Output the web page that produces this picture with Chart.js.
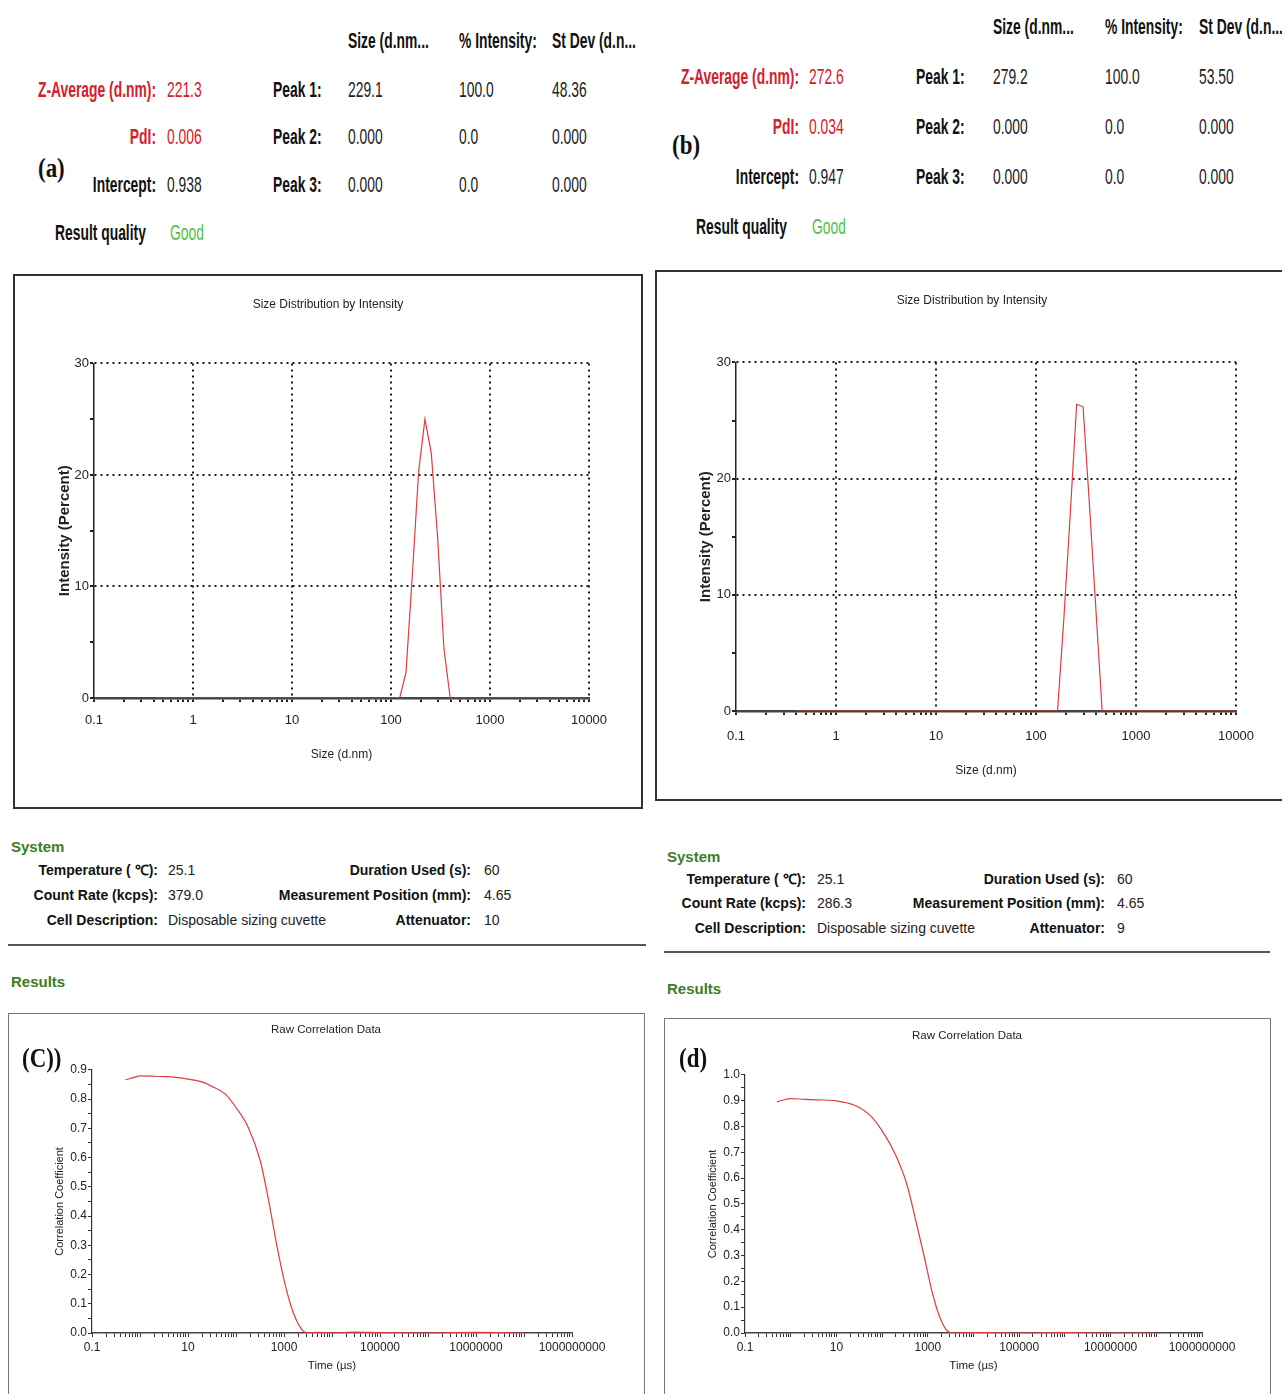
<!DOCTYPE html>
<html>
<head>
<meta charset="utf-8">
<script src="https://cdn.jsdelivr.net/npm/chart.js@4.4.0/dist/chart.umd.min.js"></script>
<style>
  body { margin: 0; width: 1282px; height: 1394px; position: relative; background: #fff; overflow: hidden;
         font-family: 'Liberation Sans', Arial, sans-serif; }
  .t { position: absolute; white-space: nowrap; line-height: 1; transform-origin: left center;
       transform: translateY(-50%); }
  .r { transform-origin: right center; transform: translate(-100%, -50%); }
  .n { font-size: 22px; color: #222; transform: translateY(-50%) scaleX(0.63); }
  .n.r { transform: translate(-100%, -50%) scaleX(0.63); }
  .lab { font-weight: bold; color: #111; }
  .red { color: #d4202c; }
  .good { color: #52bf4a; }
  .tag { font-family: 'Liberation Serif', 'Times New Roman', serif; font-weight: bold; font-size: 27px; color: #111;
         transform: translateY(-50%) scaleX(0.85); }
  .s { font-size: 14px; color: #222; }
  .sb { font-size: 14px; font-weight: bold; color: #111; }
  .green { font-size: 15px; font-weight: bold; color: #3d7d1f; }
  .box { position: absolute; box-sizing: border-box; }
  canvas { position: absolute; }
  .rule { position: absolute; height: 2px; background: #555; }
</style>
</head>
<body>
<div class="box" style="left:13px;top:274px;width:630px;height:535px;border:2px solid #333;"></div>
<div class="box" style="left:655px;top:270px;width:640px;height:531px;border:2px solid #333;"></div>
<div class="box" style="left:8px;top:1013px;width:637px;height:400px;border:1px solid #777;"></div>
<div class="box" style="left:664px;top:1018px;width:607px;height:400px;border:1px solid #777;"></div>

<canvas id="chartA" width="625" height="530" style="left:15px;top:276px;"></canvas>
<canvas id="chartB" width="625" height="526" style="left:657px;top:272px;"></canvas>
<canvas id="chartC" width="632" height="379" style="left:10px;top:1015px;"></canvas>
<canvas id="chartD" width="602" height="374" style="left:666px;top:1020px;"></canvas>

<div id="texts"></div>
<div class="rule" style="left:8px;top:944px;width:638px;"></div>
<div class="rule" style="left:664px;top:951px;width:606px;"></div>

<script>
// size distribution by intensity
const sizeA = [0.4, 122.4, 141.8, 164.2, 190.1, 220.2, 255.0, 295.3, 342.0, 396.1, 10000];
const intensityA = [0, 0, 2.3, 11, 20.3, 25.0, 22.0, 14.5, 4.5, 0, 0];
const sizeB = [0.4, 164.2, 190.1, 220.2, 255.0, 295.3, 342.0, 396.1, 458.7, 10000];
const intensityB = [0, 0, 8, 17, 26.4, 26.2, 17.8, 8.9, 0, 0];

// raw correlation data
const timeC = [0.5, 0.75, 1, 2, 3, 5, 10, 20, 30, 60, 100, 180, 320, 480, 700, 1050, 1550, 2300, 3100,
               5000, 10000, 30000, 100000, 1000000, 10000000, 100000000];
const corrC = [0.866, 0.874, 0.879, 0.878, 0.877, 0.875, 0.868, 0.858, 0.845, 0.817, 0.771, 0.703, 0.589,
               0.452, 0.304, 0.167, 0.071, 0.014, 0.0, 0.002, 0.0, 0.003, 0.001, 0.0, 0.002, 0.0];
const timeD = [0.5, 1, 2, 4, 10, 25, 56, 100, 186, 340, 560, 830, 1260, 1860, 2750, 3700,
               10000, 30000, 100000, 1000000, 10000000, 100000000];
const corrD = [0.895, 0.908, 0.905, 0.903, 0.899, 0.882, 0.841, 0.783, 0.699, 0.582, 0.427, 0.298,
               0.155, 0.058, 0.006, 0.0, 0.002, 0.001, 0.0, 0.002, 0.0, 0.0];

const sizeTicks = [0.1, 1, 10, 100, 1000, 10000];
const timeTickLabels = [0.1, 10, 1000, 100000, 10000000, 1000000000];

// header tables
const peakCols = ['Size (d.nm...', '% Intensity:', 'St Dev (d.n...'];
const peakRowsA = [['229.1', '100.0', '48.36'], ['0.000', '0.0', '0.000'], ['0.000', '0.0', '0.000']];
const peakRowsB = [['279.2', '100.0', '53.50'], ['0.000', '0.0', '0.000'], ['0.000', '0.0', '0.000']];
const summaryA = ['221.3', '0.006', '0.938'];
const summaryB = ['272.6', '0.034', '0.947'];
const systemA = ['25.1', '379.0', 'Disposable sizing cuvette', '60', '4.65', '10'];
const systemB = ['25.1', '286.3', 'Disposable sizing cuvette', '60', '4.65', '9'];

const RED = '#dc3c42';

const texts = document.getElementById('texts');
function txt(x, y, s, cls, right) {
    const d = document.createElement('div');
    d.className = 't ' + cls + (right ? ' r' : '');
    d.style.left = x + 'px';
    d.style.top = y + 'px';
    d.textContent = s;
    texts.appendChild(d);
}

function header(p) {
    peakCols.forEach((c, i) => txt(p.cols[i], p.headY, c, 'n lab'));
    const labels = ['Z-Average (d.nm):', 'PdI:', 'Intercept:'];
    labels.forEach((l, i) => {
        const y = p.rowY[i];
        const red = i < 2 ? ' red' : '';
        txt(p.labRight, y, l, 'n lab' + red, true);
        txt(p.valX, y, p.summary[i], 'n' + red);
        txt(p.peakX, y, 'Peak ' + (i + 1) + ':', 'n lab');
        p.rows[i].forEach((v, j) => txt(p.cols[j], y, v, 'n'));
    });
    txt(p.tagX, p.tagY, p.tag, 'tag');
    txt(p.rqX, p.rqY, 'Result quality', 'n lab');
    txt(p.goodX, p.rqY, 'Good', 'n good');
}

header({cols: [348, 459, 552], headY: 41, rowY: [90, 137, 185], labRight: 156, valX: 167, peakX: 273,
        summary: summaryA, rows: peakRowsA, tag: '(a)', tagX: 38, tagY: 168, rqX: 55, rqY: 233, goodX: 170});
header({cols: [993, 1105, 1199], headY: 27, rowY: [77, 127, 177], labRight: 799, valX: 809, peakX: 916,
        summary: summaryB, rows: peakRowsB, tag: '(b)', tagX: 672, tagY: 145, rqX: 696, rqY: 227, goodX: 812});

function system(p) {
    txt(p.x0, p.y0, 'System', 'green');
    const left = ['Temperature ( \u2103):', 'Count Rate (kcps):', 'Cell Description:'];
    const right = ['Duration Used (s):', 'Measurement Position (mm):', 'Attenuator:'];
    for (let i = 0; i < 3; i++) {
        txt(p.r1, p.rows[i], left[i], 'sb', true);
        txt(p.v1, p.rows[i], p.vals[i], 's');
        txt(p.r2, p.rows[i], right[i], 'sb', true);
        txt(p.v2, p.rows[i], p.vals[i + 3], 's');
    }
    txt(p.x0, p.resY, 'Results', 'green');
}
system({x0: 11, y0: 846, rows: [870, 895, 920], r1: 158, v1: 168, r2: 471, v2: 484, vals: systemA, resY: 981});
system({x0: 667, y0: 856, rows: [879, 903, 928], r1: 806, v1: 817, r2: 1105, v2: 1117, vals: systemB, resY: 988});

const isDecade = v => Math.abs(Math.log10(v) - Math.round(Math.log10(v))) < 1e-9;

function logTicks(lo, hi) {
    const out = [];
    for (let e = lo; e < hi; e++) {
        for (let m = 1; m < 10; m++) out.push(Number((m * Math.pow(10, e)).toPrecision(3)));
    }
    out.push(Math.pow(10, hi));
    return out;
}

function sizeChart(id, sizes, vals, L) {
    return new Chart(document.getElementById(id), {
        type: 'scatter',
        data: {
            datasets: [{
                data: sizes.map((s, i) => ({x: s, y: vals[i]})),
                showLine: true,
                borderColor: RED,
                borderWidth: 1.2,
                pointRadius: 0
            }]
        },
        options: {
            responsive: false,
            animation: false,
            layout: {padding: {left: L.padLeft, right: L.padRight, top: 0, bottom: 0}},
            plugins: {
                legend: {display: false},
                tooltip: {enabled: false},
                title: {
                    display: true,
                    text: 'Size Distribution by Intensity',
                    color: '#222',
                    font: {size: 12, weight: 'normal'},
                    padding: {top: L.titleTop, bottom: L.titleBottom}
                }
            },
            scales: {
                x: {
                    type: 'logarithmic',
                    min: 0.1,
                    max: 10000,
                    afterBuildTicks: s => { s.ticks = logTicks(-1, 4).map(v => ({value: v})); },
                    afterFit: s => { s.height = L.xHeight; },
                    ticks: {
                        autoSkip: false,
                        maxRotation: 0,
                        padding: L.xTickPad,
                        color: '#222',
                        font: {size: 13},
                        callback: v => sizeTicks.includes(v) ? String(v) : ''
                    },
                    grid: {
                        color: c => (c.tick && isDecade(c.tick.value) && c.tick.value > 0.1) ? '#1a1a1a' : 'rgba(0,0,0,0)',
                        lineWidth: 2,
                        tickColor: '#222',
                        tickLength: 4
                    },
                    border: {color: '#444', width: 2.5, dash: [2, 4]},
                    title: {
                        display: true,
                        text: 'Size (d.nm)',
                        color: '#222',
                        font: {size: 12},
                        padding: {top: 0, bottom: L.xTitlePad}
                    }
                },
                y: {
                    min: 0,
                    max: 30,
                    afterBuildTicks: s => { s.ticks = [0, 5, 10, 15, 20, 25, 30].map(v => ({value: v})); },
                    afterFit: s => { s.width = L.yWidth; },
                    ticks: {
                        padding: 1,
                        color: '#222',
                        font: {size: 13},
                        callback: v => v % 10 === 0 ? String(v) : ''
                    },
                    grid: {
                        color: c => (c.tick && c.tick.value % 10 === 0 && c.tick.value > 0) ? '#1a1a1a' : 'rgba(0,0,0,0)',
                        lineWidth: 2,
                        tickColor: '#222',
                        tickLength: 4
                    },
                    border: {color: '#222', width: 1.5, dash: [2, 4]},
                    title: {
                        display: true,
                        text: 'Intensity (Percent)',
                        color: '#222',
                        font: {size: 15, weight: 'bold'},
                        padding: {top: L.yTitlePad, bottom: 0}
                    }
                }
            }
        }
    });
}

function corrChart(id, times, vals, yMax, L) {
    const ySteps = [];
    for (let i = 0; i <= Math.round(yMax * 20); i++) ySteps.push(i / 20);
    // width of a "0.0" label, so mirrored labels can sit left of the axis
    const mctx = document.createElement('canvas').getContext('2d');
    mctx.font = "12px 'Liberation Sans', Arial, sans-serif";
    const labelW = mctx.measureText('0.0').width;
    return new Chart(document.getElementById(id), {
        type: 'scatter',
        data: {
            datasets: [{
                data: times.map((t, i) => ({x: t, y: vals[i]})),
                showLine: true,
                cubicInterpolationMode: 'monotone',
                borderColor: RED,
                borderWidth: 1.2,
                pointRadius: 0
            }]
        },
        options: {
            responsive: false,
            animation: false,
            layout: {padding: {left: L.padLeft, right: L.padRight, top: 0, bottom: 0}},
            plugins: {
                legend: {display: false},
                tooltip: {enabled: false},
                title: {
                    display: true,
                    text: 'Raw Correlation Data',
                    color: '#222',
                    font: {size: 11.5, weight: 'normal'},
                    padding: {top: L.titleTop, bottom: L.titleBottom}
                }
            },
            scales: {
                x: {
                    type: 'logarithmic',
                    min: 0.1,
                    max: 1e9,
                    afterBuildTicks: s => { s.ticks = logTicks(-1, 9).map(v => ({value: v})); },
                    afterFit: s => { s.height = L.xHeight; },
                    ticks: {
                        autoSkip: false,
                        maxRotation: 0,
                        padding: 3,
                        color: '#222',
                        font: {size: 12},
                        callback: v => timeTickLabels.includes(v) ? String(v) : ''
                    },
                    grid: {
                        drawOnChartArea: false,
                        tickColor: '#333',
                        tickLength: 4
                    },
                    border: {color: '#444', width: 1.5},
                    title: {
                        display: true,
                        text: 'Time (\u00b5s)',
                        color: '#222',
                        font: {size: 11.5},
                        padding: {top: 0, bottom: L.xTitlePad}
                    }
                },
                y: {
                    min: 0,
                    max: yMax,
                    afterBuildTicks: s => { s.ticks = ySteps.map(v => ({value: v})); },
                    afterFit: s => { s.width = L.yWidth; },
                    ticks: {
                        autoSkip: false,
                        mirror: true,
                        crossAlign: 'far',
                        padding: -(5 + labelW),
                        color: '#222',
                        font: {size: 12},
                        callback: v => Math.round(v * 20) % 2 === 0 ? v.toFixed(1) : ''
                    },
                    grid: {
                        drawOnChartArea: false,
                        tickColor: '#333',
                        tickLength: 4
                    },
                    border: {color: '#333', width: 1.2},
                    title: {
                        display: true,
                        text: 'Correlation Coefficient',
                        color: '#222',
                        font: {size: 11},
                        padding: {top: L.yTitlePad, bottom: 0}
                    }
                }
            }
        }
    });
}

sizeChart('chartA', sizeA, intensityA,
    {padLeft: 52, padRight: 51, titleTop: 21, titleBottom: 52, xHeight: 108, xTickPad: 11, xTitlePad: 44,
     yWidth: 27, yTitlePad: -11});
sizeChart('chartB', sizeB, intensityB,
    {padLeft: 51, padRight: 46, titleTop: 21, titleBottom: 55, xHeight: 87, xTickPad: 14, xTitlePad: 20,
     yWidth: 28, yTitlePad: -11});
corrChart('chartC', timeC, corrC, 0.9,
    {padLeft: 70, padRight: 70, titleTop: 8, titleBottom: 33, xHeight: 61, xTitlePad: 21, yWidth: 12, yTitlePad: -27});
corrChart('chartD', timeD, corrD, 1.0,
    {padLeft: 66, padRight: 66, titleTop: 9, titleBottom: 32, xHeight: 61, xTitlePad: 21, yWidth: 13, yTitlePad: -26});

// panel tags on the correlation plots
txt(22, 1058, '(C))', 'tag');
txt(679, 1058, '(d)', 'tag');
</script>
</body>
</html>
